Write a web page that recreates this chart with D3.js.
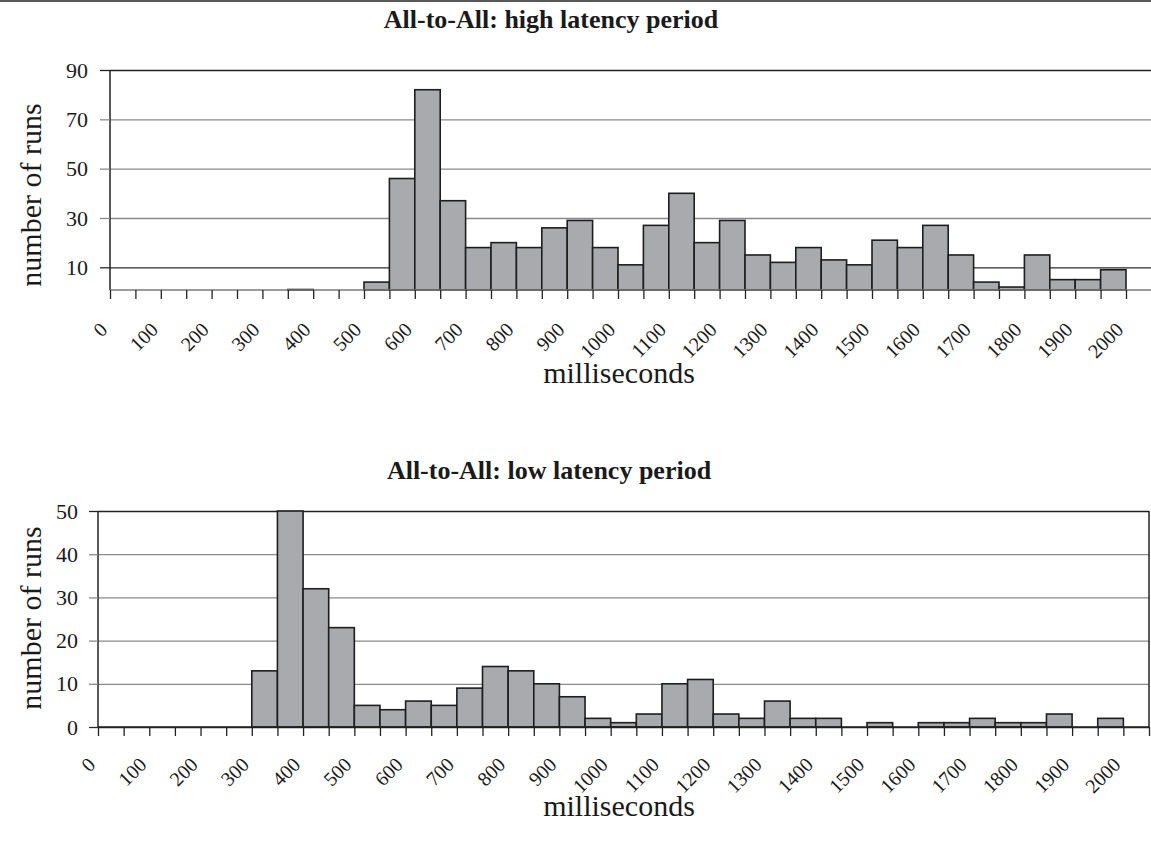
<!DOCTYPE html>
<html>
<head>
<meta charset="utf-8">
<script src="https://cdn.jsdelivr.net/npm/d3@7"></script>
<style>
  html, body { margin: 0; padding: 0; background: #fff; }
  svg { display: block; }
  text { font-family: "Liberation Serif", "Times New Roman", serif; fill: #1a1a1a; }
</style>
</head>
<body>
<svg id="chart" width="1151" height="841"></svg>
<script>
// ---- data ----
const binStarts = [0,50,100,150,200,250,300,350,400,450,500,550,600,650,700,750,800,850,900,950,
                   1000,1050,1100,1150,1200,1250,1300,1350,1400,1450,1500,1550,1600,1650,1700,1750,
                   1800,1850,1900,1950,2000];
const binWidth = 50;
const xTickLabels = ["0","100","200","300","400","500","600","700","800","900","1000",
                     "1100","1200","1300","1400","1500","1600","1700","1800","1900","2000"];
const highLatencyRuns = [0,0,0,0,0,0,0,1,0,0,4,46,82,37,18,20,18,26,29,18,
                         11,27,40,20,29,15,12,18,13,11,21,18,27,15,4,2,15,5,5,9,0];
const lowLatencyRuns  = [0,0,0,0,0,0,13,50,32,23,5,4,6,5,9,14,13,10,7,2,
                         1,3,10,11,3,2,6,2,2,0,1,0,1,1,2,1,1,3,0,2,0];
const highYTicks = [10,30,50,70,90];
const lowYTicks  = [0,10,20,30,40,50];

const svg = d3.select("#chart");
svg.append("rect").attr("width",1151).attr("height",841).attr("fill","#fff");
svg.append("line").attr("x1",0).attr("x2",1151).attr("y1",1).attr("y2",1)
   .attr("stroke","#222").attr("stroke-width",1.5);

function drawChart(cfg) {
  const g = svg.append("g");
  const xMax = binStarts[binStarts.length-1] + binWidth;
  const x = d3.scaleLinear().domain([0, xMax]).range([cfg.left, cfg.right]);
  const y = d3.scaleLinear().domain([cfg.yMin, cfg.yMax]).range([cfg.bottom, cfg.top]);
  const gridColor = d => d === cfg.yMax ? "#222" : (cfg.darkTick === d ? "#2a2a2a" : "#8a8a8a");

  // gridlines (via axis)
  const grid = g.append("g").attr("transform",`translate(${cfg.left},0)`)
    .call(d3.axisLeft(y).tickValues(cfg.yTicks).tickSize(-(cfg.right-cfg.left)).tickFormat(""));
  grid.select(".domain").remove();
  grid.selectAll(".tick line").attr("stroke", gridColor)
    .attr("stroke-width", d => d === cfg.yMax ? 1.6 : 1.3);

  // y axis with outward ticks + labels
  const yAx = g.append("g").attr("transform",`translate(${cfg.left},0)`)
    .call(d3.axisLeft(y).tickValues(cfg.yTicks).tickSize(cfg.yTickLen).tickPadding(cfg.yPad).tickSizeOuter(0));
  yAx.attr("font-size",null).attr("font-family",null);
  yAx.select(".domain").attr("stroke","#222").attr("stroke-width",1.5)
     .attr("d", `M0,${cfg.bottom}V${cfg.top}`);
  yAx.selectAll(".tick line").attr("stroke", gridColor).attr("stroke-width",1.3);
  yAx.selectAll(".tick text").style("font-size","22px").attr("fill","#1a1a1a");

  // bars
  g.append("g").selectAll("rect")
    .data(binStarts.map((b,i)=>({b, v: cfg.values[i]})).filter(d=>d.v>0))
    .join("rect")
    .attr("x", d => x(d.b))
    .attr("width", d => x(d.b+binWidth) - x(d.b))
    .attr("y", d => y(d.v))
    .attr("height", d => Math.max(0, y(cfg.yMin) - y(d.v)))
    .attr("fill","#a9aaae")
    .attr("stroke","#1e1e1e")
    .attr("stroke-width",1.6);

  // x axis
  const labelSet = new Set(xTickLabels.map(Number));
  const xAx = g.append("g").attr("transform",`translate(0,${cfg.bottom})`)
    .call(d3.axisBottom(x).tickValues(binStarts.concat([xMax])).tickSize(cfg.xTickLen).tickSizeOuter(0)
      .tickFormat(d => labelSet.has(d) ? xTickLabels[xTickLabels.indexOf(String(d))] : ""));
  xAx.attr("font-size",null).attr("font-family",null);
  xAx.select(".domain").attr("stroke", cfg.baseColor).attr("stroke-width",1.5)
     .attr("d", `M${cfg.left},0H${cfg.right}`);
  xAx.selectAll(".tick line").attr("stroke","#222").attr("stroke-width",1.3);
  xAx.selectAll(".tick text")
    .style("font-size","20px").attr("fill","#1a1a1a")
    .attr("text-anchor","end").attr("dy",null).attr("y",null)
    .attr("transform",`translate(-2,${cfg.labelDrop}) rotate(-45)`);

  if (cfg.rightBorder) {
    g.append("line").attr("x1",cfg.right).attr("x2",cfg.right).attr("y1",cfg.top).attr("y2",cfg.bottom)
      .attr("stroke","#222").attr("stroke-width",1.5);
  }

  // titles
  g.append("text").attr("x",cfg.titleX).attr("y",cfg.titleY).attr("text-anchor","middle")
    .style("font-size","26px").attr("font-weight","bold").text(cfg.title);
  g.append("text").attr("x",cfg.xTitleX).attr("y",cfg.xTitleY).attr("text-anchor","middle")
    .style("font-size","30px").text("milliseconds");
  g.append("text").attr("transform",`translate(41,${cfg.yTitleY}) rotate(-90)`)
    .attr("text-anchor","middle").style("font-size","30px").text("number of runs");
}

drawChart({
  title: "All-to-All: high latency period",
  values: highLatencyRuns, yTicks: highYTicks, yMin: 0.8, yMax: 90,
  left: 110, right: 1151.4, top: 70, bottom: 290,
  yTickLen: 10, yPad: 12, xTickLen: 9, labelDrop: 41,
  baseColor: "#7a7a7a", darkTick: 10, rightBorder: false,
  titleX: 551, titleY: 28, xTitleX: 619, xTitleY: 383, yTitleY: 195
});
drawChart({
  title: "All-to-All: low latency period",
  values: lowLatencyRuns, yTicks: lowYTicks, yMin: 0, yMax: 50,
  left: 98, right: 1149, top: 511, bottom: 727,
  yTickLen: 9, yPad: 11, xTickLen: 9, labelDrop: 39,
  baseColor: "#222", darkTick: 0, rightBorder: true,
  titleX: 549, titleY: 479, xTitleX: 619, xTitleY: 816, yTitleY: 618
});
</script>
</body>
</html>
